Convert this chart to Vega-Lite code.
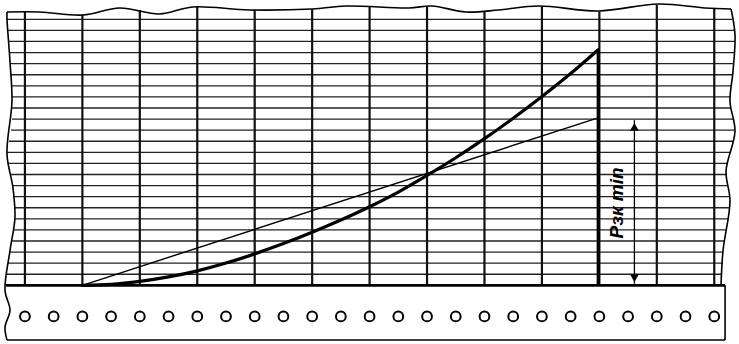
{
  "$schema": "https://vega.github.io/schema/vega-lite/v6.json",
  "width": 739,
  "height": 344,
  "padding": 0,
  "autosize": {"type": "fit", "contains": "padding"},
  "background": "white",
  "config": {"view": {"stroke": null}},
  "datasets": {
    "outline": [
      {"g": "top", "o": 1, "x": -0.3125, "y": 24.66},
      {"g": "top", "o": 2, "x": 0.26, "y": 24.66},
      {"g": "top", "o": 3, "x": 1.007, "y": 24.39},
      {"g": "top", "o": 4, "x": 1.649, "y": 25.02},
      {"g": "top", "o": 5, "x": 2.344, "y": 24.48},
      {"g": "top", "o": 6, "x": 2.917, "y": 25.11},
      {"g": "top", "o": 7, "x": 3.906, "y": 24.84},
      {"g": "top", "o": 8, "x": 5.0, "y": 24.93},
      {"g": "top", "o": 9, "x": 5.59, "y": 25.2},
      {"g": "top", "o": 10, "x": 6.684, "y": 25.02},
      {"g": "top", "o": 11, "x": 7.083, "y": 25.2},
      {"g": "top", "o": 12, "x": 7.674, "y": 24.66},
      {"g": "top", "o": 13, "x": 8.247, "y": 24.84},
      {"g": "top", "o": 14, "x": 8.941, "y": 25.2},
      {"g": "top", "o": 15, "x": 9.983, "y": 24.75},
      {"g": "top", "o": 16, "x": 11.024, "y": 25.38},
      {"g": "top", "o": 17, "x": 11.84, "y": 25.02},
      {"g": "top", "o": 18, "x": 12.292, "y": 24.93},
      {"g": "right", "o": 1, "x": 12.292, "y": 24.93},
      {"g": "right", "o": 2, "x": 12.361, "y": 22.6},
      {"g": "right", "o": 3, "x": 12.326, "y": 19.28},
      {"g": "right", "o": 4, "x": 12.274, "y": 16.59},
      {"g": "right", "o": 5, "x": 12.361, "y": 13.9},
      {"g": "right", "o": 6, "x": 12.205, "y": 10.31},
      {"g": "right", "o": 7, "x": 12.274, "y": 7.62},
      {"g": "right", "o": 8, "x": 12.153, "y": 3.14},
      {"g": "right", "o": 9, "x": 12.118, "y": 0},
      {"g": "strip", "o": 1, "x": 12.188, "y": 0},
      {"g": "strip", "o": 2, "x": 12.188, "y": -4.93},
      {"g": "bottom", "o": 1, "x": 12.188, "y": -4.93},
      {"g": "bottom", "o": 2, "x": -0.3125, "y": -4.93},
      {"g": "left", "o": 1, "x": -0.3125, "y": -4.93},
      {"g": "left", "o": 2, "x": -0.347, "y": -3.77},
      {"g": "left", "o": 3, "x": -0.26, "y": -2.24},
      {"g": "left", "o": 4, "x": -0.347, "y": -0.45},
      {"g": "left", "o": 5, "x": -0.26, "y": 3.14},
      {"g": "left", "o": 6, "x": -0.174, "y": 6.1},
      {"g": "left", "o": 7, "x": -0.208, "y": 8.79},
      {"g": "left", "o": 8, "x": -0.3125, "y": 11.84},
      {"g": "left", "o": 9, "x": -0.226, "y": 16.59},
      {"g": "left", "o": 10, "x": -0.26, "y": 20.18},
      {"g": "left", "o": 11, "x": -0.3125, "y": 24.04},
      {"g": "left", "o": 12, "x": -0.3125, "y": 24.66}
    ],
    "hlines": [
      {"y": 1, "x": -0.3125, "x2": 12.135},
      {"y": 2, "x": -0.295, "x2": 12.153},
      {"y": 3, "x": -0.26, "x2": 12.153},
      {"y": 4, "x": -0.226, "x2": 12.188},
      {"y": 5, "x": -0.191, "x2": 12.205},
      {"y": 6, "x": -0.174, "x2": 12.24},
      {"y": 7, "x": -0.191, "x2": 12.274},
      {"y": 8, "x": -0.208, "x2": 12.257},
      {"y": 9, "x": -0.226, "x2": 12.24},
      {"y": 10, "x": -0.26, "x2": 12.222},
      {"y": 11, "x": -0.295, "x2": 12.24},
      {"y": 12, "x": -0.3125, "x2": 12.292},
      {"y": 13, "x": -0.278, "x2": 12.344},
      {"y": 14, "x": -0.243, "x2": 12.361},
      {"y": 15, "x": -0.226, "x2": 12.326},
      {"y": 16, "x": -0.226, "x2": 12.292},
      {"y": 17, "x": -0.226, "x2": 12.274},
      {"y": 18, "x": -0.243, "x2": 12.292},
      {"y": 19, "x": -0.26, "x2": 12.309},
      {"y": 20, "x": -0.26, "x2": 12.326},
      {"y": 21, "x": -0.278, "x2": 12.344},
      {"y": 22, "x": -0.295, "x2": 12.361},
      {"y": 23, "x": -0.3125, "x2": 12.344},
      {"y": 24, "x": -0.3125, "x2": 12.309}
    ],
    "base": [
      {"y": 0, "x": -0.33, "x2": 12.188}
    ],
    "vlines": [
      {"x": 0, "y": 0, "y2": 24.75},
      {"x": 1, "y": 0, "y2": 24.4},
      {"x": 2, "y": 0, "y2": 24.85},
      {"x": 3, "y": 0, "y2": 25.1},
      {"x": 4, "y": 0, "y2": 24.85},
      {"x": 5, "y": 0, "y2": 24.9},
      {"x": 6, "y": 0, "y2": 25.15},
      {"x": 7, "y": 0, "y2": 25.15},
      {"x": 8, "y": 0, "y2": 24.7},
      {"x": 9, "y": 0, "y2": 25.15},
      {"x": 10, "y": 0, "y2": 24.7},
      {"x": 11, "y": 0, "y2": 25.3},
      {"x": 12, "y": 0, "y2": 25.0}
    ],
    "holes": [
      {"x": 0, "y": -2.8}, {"x": 0.5, "y": -2.8}, {"x": 1, "y": -2.8}, {"x": 1.5, "y": -2.8},
      {"x": 2, "y": -2.8}, {"x": 2.5, "y": -2.8}, {"x": 3, "y": -2.8}, {"x": 3.5, "y": -2.8},
      {"x": 4, "y": -2.8}, {"x": 4.5, "y": -2.8}, {"x": 5, "y": -2.8}, {"x": 5.5, "y": -2.8},
      {"x": 6, "y": -2.8}, {"x": 6.5, "y": -2.8}, {"x": 7, "y": -2.8}, {"x": 7.5, "y": -2.8},
      {"x": 8, "y": -2.8}, {"x": 8.5, "y": -2.8}, {"x": 9, "y": -2.8}, {"x": 9.5, "y": -2.8},
      {"x": 10, "y": -2.8}, {"x": 10.5, "y": -2.8}, {"x": 11, "y": -2.8}, {"x": 11.5, "y": -2.8},
      {"x": 12, "y": -2.8}
    ],
    "ref": [
      {"x": 1.0, "y": 0},
      {"x": 9.95, "y": 15.07}
    ],
    "curve": [
      {"x": 1.0, "y": 0},
      {"x": 1.5, "y": 0.09},
      {"x": 2.0, "y": 0.36},
      {"x": 2.5, "y": 0.76},
      {"x": 3.0, "y": 1.31},
      {"x": 3.5, "y": 2.01},
      {"x": 4.0, "y": 2.84},
      {"x": 4.5, "y": 3.77},
      {"x": 5.0, "y": 4.79},
      {"x": 5.5, "y": 5.89},
      {"x": 6.0, "y": 7.09},
      {"x": 6.5, "y": 8.41},
      {"x": 7.0, "y": 9.91},
      {"x": 7.5, "y": 11.51},
      {"x": 8.0, "y": 13.23},
      {"x": 8.5, "y": 15.07},
      {"x": 9.0, "y": 17.03},
      {"x": 9.5, "y": 19.11},
      {"x": 9.98, "y": 21.26}
    ],
    "drop": [
      {"x": 9.98, "y": 0, "y2": 21.26}
    ],
    "dim": [
      {"x": 10.61, "y": 0.15, "y2": 14.9}
    ],
    "heads": [
      {"x": 10.61, "y": 14.3, "s": "triangle-up"},
      {"x": 10.61, "y": 0.65, "s": "triangle-down"}
    ],
    "label": [
      {"x": 10.31, "y": 7.44, "t": "Рзк min"}
    ]
  },
  "encoding": {
    "x": {"field": "x", "type": "quantitative", "axis": null, "scale": {"domain": [-0.434, 12.396], "nice": false, "zero": false}},
    "y": {"field": "y", "type": "quantitative", "axis": null, "scale": {"domain": [-5.291, 25.561], "nice": false, "zero": false}}
  },
  "layer": [
    {
      "data": {"name": "hlines"},
      "mark": {"type": "rule", "color": "#222222", "strokeWidth": 1.3},
      "encoding": {"x2": {"field": "x2"}}
    },
    {
      "data": {"name": "vlines"},
      "mark": {"type": "rule", "color": "#111111", "strokeWidth": 2.2},
      "encoding": {"y2": {"field": "y2"}}
    },
    {
      "data": {"name": "base"},
      "mark": {"type": "rule", "color": "#000000", "strokeWidth": 2.8},
      "encoding": {"x2": {"field": "x2"}}
    },
    {
      "data": {"name": "outline"},
      "mark": {"type": "line", "color": "#000000", "strokeWidth": 1.6, "interpolate": "catmull-rom"},
      "encoding": {
        "detail": {"field": "g", "type": "nominal"},
        "order": {"field": "o", "type": "quantitative"}
      }
    },
    {
      "data": {"name": "holes"},
      "mark": {"type": "point", "shape": "circle", "filled": false, "stroke": "#000000", "strokeWidth": 2, "size": 95, "opacity": 1}
    },
    {
      "data": {"name": "ref"},
      "mark": {"type": "line", "color": "#000000", "strokeWidth": 1.4},
      "encoding": {}
    },
    {
      "data": {"name": "curve"},
      "mark": {"type": "line", "color": "#000000", "strokeWidth": 3.2, "interpolate": "monotone", "strokeCap": "round"},
      "encoding": {}
    },
    {
      "data": {"name": "drop"},
      "mark": {"type": "rule", "color": "#000000", "strokeWidth": 3.2},
      "encoding": {"y2": {"field": "y2"}}
    },
    {
      "data": {"name": "dim"},
      "mark": {"type": "rule", "color": "#000000", "strokeWidth": 1.3},
      "encoding": {"y2": {"field": "y2"}}
    },
    {
      "data": {"name": "heads"},
      "mark": {"type": "point", "filled": true, "color": "#000000", "size": 80, "opacity": 1},
      "encoding": {"shape": {"field": "s", "type": "nominal", "scale": null, "legend": null}}
    },
    {
      "data": {"name": "label"},
      "mark": {"type": "text", "angle": 270, "font": "Liberation Sans", "fontStyle": "italic", "fontWeight": "bold", "fontSize": 19, "color": "#000000", "align": "center", "baseline": "middle"},
      "encoding": {"text": {"field": "t", "type": "nominal"}}
    }
  ]
}
